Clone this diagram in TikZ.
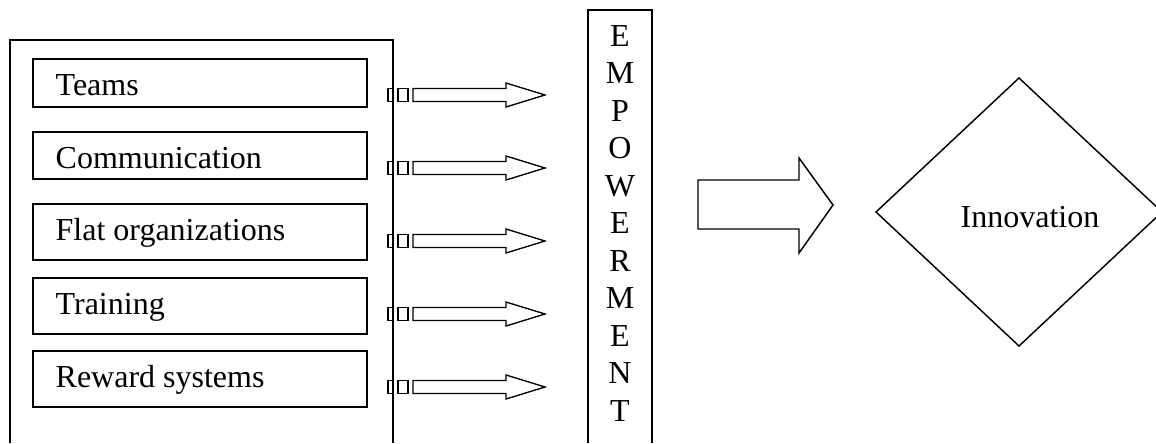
\documentclass[tikz,border=0pt]{standalone}
\usepackage{fontspec}
\setmainfont{Liberation Serif}
\begin{document}
\begin{tikzpicture}[x=0.75pt,y=-0.75pt,line width=1pt,line join=miter,
  lbl/.style={font=\fontsize{24}{28}\selectfont,inner sep=0pt,anchor=base west},
  letter/.style={font=\fontsize{24}{28}\selectfont,inner sep=0pt,anchor=base},
  frame/.style={draw,line width=1.2pt},
  itembox/.style={draw,line width=1.1pt},
  fatarrow/.style={draw,line width=1pt,fill=white}]
\useasboundingbox (0,0) rectangle (1156,443);
% outer frame (open at bottom)
\coordinate (fbl) at (10,443);
\coordinate (ftl) at (10,40);
\coordinate (ftr) at (393,40);
\coordinate (fbr) at (393,443);
\draw[frame] (fbl) -- (ftl) -- (ftr) -- (fbr);
% item boxes
\draw[itembox] (33,59) rectangle (367,107);
\draw[itembox] (33,132) rectangle (367,179);
\draw[itembox] (33,204) rectangle (367,260);
\draw[itembox] (33,278) rectangle (367,334);
\draw[itembox] (33,351) rectangle (367,407);
\node[lbl] (t1) at (55,95.5) {Teams};
\node[lbl] (t2) at (55,168.5) {Communication};
\node[lbl] (t3) at (55,240.5) {Flat organizations};
\node[lbl] (t4) at (55,314.5) {Training};
\node[lbl] (t5) at (55,387.5) {Reward systems};
% small arrows
\foreach \y in {95,168,241,314,387}{
  \draw (388,\y-6.5) rectangle (393,\y+6.5);
  \draw (398,\y-6.5) rectangle (408,\y+6.5);
  \draw[fatarrow] (413,\y-6.5) -- (506,\y-6.5) -- (506,\y-12) -- (545,\y)
     -- (506,\y+12) -- (506,\y+6.5) -- (413,\y+6.5) -- cycle;
}
% EMPOWERMENT box (open at bottom)
\coordinate (ebl) at (588,443);
\coordinate (etl) at (588,10);
\coordinate (etr) at (652,10);
\coordinate (ebr) at (652,443);
\draw[frame] (ebl) -- (etl) -- (etr) -- (ebr);
\foreach \l [count=\i from 0] in {E,M,P,O,W,E,R,M,E,N,T}{
  \node[letter] (e\i) at (620,46+37.5*\i) {\l};
}
% big arrow
\draw[fatarrow,line width=1.1pt] (698,180) -- (799,180) -- (799,158) -- (833,205)
   -- (799,253) -- (799,229) -- (698,229) -- cycle;
% diamond
\coordinate (dl) at (876,212);
\coordinate (dt) at (1019,78);
\coordinate (dr) at (1162,212);
\coordinate (db) at (1019,346);
\draw[line width=1.1pt] (dl) -- (dt) -- (dr) -- (db) -- cycle;
\node[lbl] (inn) at (960,227) {Innovation};
\end{tikzpicture}
\end{document}
